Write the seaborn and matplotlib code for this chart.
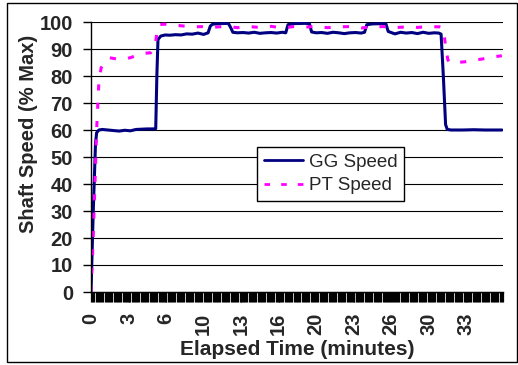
import numpy as np
import pandas as pd
import seaborn as sns
import matplotlib.pyplot as plt
from matplotlib.patches import Rectangle
from matplotlib.ticker import MultipleLocator

# GG speed trace (elapsed minutes, % max)
gg_time = [0.0, 0.2, 0.4, 0.5, 0.7, 1.0, 1.5, 2.0, 2.5, 3.0, 3.5, 4.0, 4.5, 5.0, 5.5,
           5.75, 5.85, 5.95, 6.2, 6.6, 7.0, 7.5, 8.0, 8.5, 9.0, 9.5, 10.0, 10.4, 10.6,
           10.8, 11.5, 12.2, 12.4, 12.6, 13.0, 13.5, 14.0, 14.5, 15.0, 15.5, 16.0, 16.5,
           17.0, 17.3, 17.5, 18.0, 19.0, 19.4, 19.6, 20.0, 20.5, 21.0, 21.5, 22.0, 22.5,
           23.0, 23.5, 24.0, 24.3, 24.5, 25.0, 26.0, 26.2, 26.4, 27.0, 27.5, 28.0, 28.5,
           29.0, 29.5, 30.0, 30.5, 30.9, 31.1, 31.3, 31.5, 31.65, 32.0, 33.0, 34.0, 35.0,
           36.0, 36.5]
gg_speed = [0, 30, 55, 59, 60, 60.2, 60, 59.8, 59.6, 59.9, 59.7, 60.2, 60.3, 60.4, 60.4,
            60.5, 80, 93.5, 94.8, 95.2, 95.1, 95.3, 95.2, 95.6, 95.5, 95.9, 95.4, 96, 98.5,
            99.2, 99.4, 99.5, 98, 96.2, 96, 96.1, 95.9, 96.2, 95.8, 96, 96.1, 95.9,
            96.2, 96, 99, 99.4, 99.5, 99.4, 96.3, 96, 96.1, 95.8, 96.2, 96, 95.7,
            96, 96.1, 95.9, 96.2, 99, 99.3, 99.4, 99.3, 96.5, 95.6, 96.2, 95.9, 96.1,
            95.7, 96.2, 95.8, 96, 95.9, 95.5, 80, 62, 60.2, 60, 60, 60.1, 60,
            60, 60]

# PT speed trace
pt_time = [0.0, 0.15, 0.35, 0.5, 0.7, 0.9, 1.2, 1.6, 2.0, 2.5, 3.0, 3.5, 4.0, 4.5, 5.0,
           5.3, 5.7, 5.85, 6.0, 6.5, 7.0, 8.0, 9.0, 10.0, 11.0, 12.0, 13.0, 14.0, 15.0,
           16.0, 17.0, 18.0, 19.0, 20.0, 21.0, 22.0, 23.0, 24.0, 25.0, 26.0, 27.0, 28.0,
           29.0, 30.0, 31.0, 31.2, 31.35, 31.5, 31.7, 31.9, 32.5, 33.3, 34.0, 34.9, 35.6,
           36.5]
pt_speed = [0, 15, 40, 60, 78, 83, 85, 86.8, 86.5, 86.2, 86.3, 86.8, 87.5, 88.3, 88.5,
            88.6, 91, 96, 99, 99.2, 99, 98.6, 98.2, 98.3, 98.1, 98.4, 97.9, 98.3, 98.0,
            98.4, 97.8, 98.3, 98.1, 98.4, 97.9, 98.2, 98.3, 97.8, 98.2, 98.3, 97.9, 98.2,
            98.0, 98.3, 98.2, 98.0, 96, 91, 86, 84.8, 85, 85.3, 85.8, 86.4, 87,
            87.5]

xtick_pos = [0, 10/3, 20/3, 10, 40/3, 50/3, 20, 70/3, 80/3, 30, 100/3]
xtick_labels = ["0", "3", "6", "10", "13", "16", "20", "23", "26", "30", "33"]

df = pd.concat([
    pd.DataFrame({"time": gg_time, "speed": gg_speed, "series": "GG Speed"}),
    pd.DataFrame({"time": pt_time, "speed": pt_speed, "series": "PT Speed"}),
])

sns.set_style("white")
plt.rcParams["font.family"] = ["Liberation Sans", "DejaVu Sans"]

W, H = 518, 365
fig = plt.figure(figsize=(W / 100, H / 100), dpi=100)
ax = fig.add_axes([91 / W, 1 - 292 / H, 412 / W, 270 / H])

sns.lineplot(data=df, x="time", y="speed", hue="series", style="series",
             palette={"GG Speed": "#000080", "PT Speed": "#FF00FF"},
             dashes={"GG Speed": "", "PT Speed": (2, 4)},
             linewidth=2.2, estimator=None, sort=False, ax=ax)

ax.set_xlim(0, 36.6)
ax.set_ylim(0, 100)
ax.set_yticks(range(0, 101, 10))
ax.set_xticks(xtick_pos)
ax.set_xticklabels(xtick_labels, rotation=90)
ax.xaxis.set_minor_locator(MultipleLocator(0.1))

for lab in ax.get_xticklabels() + ax.get_yticklabels():
    lab.set_fontweight("bold")
    lab.set_fontsize(14.5)

ax.tick_params(axis="y", which="major", direction="out", length=6, width=1,
               color="black", pad=7, left=True)
ax.tick_params(axis="x", which="both", direction="out", length=7, width=0.9,
               color="black", bottom=True)
ax.tick_params(axis="x", which="major", pad=8)

ax.yaxis.grid(True, color="black", linewidth=0.8)
ax.xaxis.grid(False)
ax.set_axisbelow(True)
for side in ["top", "right"]:
    ax.spines[side].set_visible(False)
for side in ["left", "bottom"]:
    ax.spines[side].set_color("black")
    ax.spines[side].set_linewidth(1)

ax.set_xlabel("Elapsed Time (minutes)", fontsize=15, fontweight="bold")
ax.set_ylabel("Shaft Speed (% Max)", fontsize=14.5, fontweight="bold")
ax.xaxis.set_label_coords(0.501, -0.178)
ax.yaxis.set_label_coords(-0.128, 0.585)

handles, labels = ax.get_legend_handles_labels()
leg = ax.legend(handles, labels, loc="upper left", bbox_to_anchor=(0.403, 0.537),
                borderaxespad=0, fancybox=False, frameon=True, fontsize=13.5,
                handlelength=2.1, handletextpad=0.3, borderpad=0.35, labelspacing=0.35)
leg.get_frame().set_edgecolor("black")
leg.get_frame().set_linewidth(1)
leg.get_frame().set_alpha(1)
for line in leg.get_lines():
    line.set_linewidth(2)

fig.patches.append(Rectangle((7 / W, 3 / H), 510 / W, 359 / H, transform=fig.transFigure,
                             fill=False, edgecolor="black", linewidth=1))

fig.savefig("out.png", dpi=100)
